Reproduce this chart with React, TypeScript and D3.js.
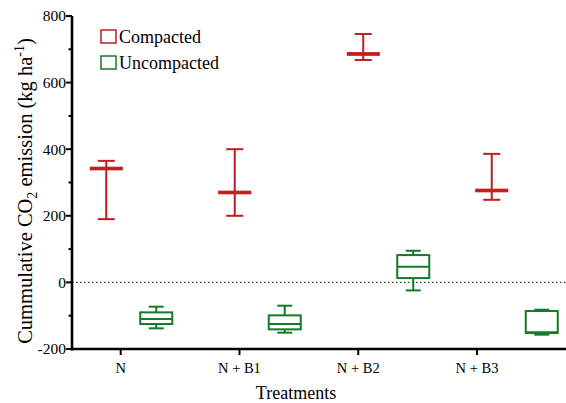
import { useMemo } from 'react';
import * as d3 from 'd3';

const treatments = ['N', 'N + B1', 'N + B2', 'N + B3'];
const groups = ['Compacted', 'Uncompacted'];

// five-number summaries
const compactedMin = [190, 200, 668, 248];
const compactedQ1 = [338, 266, 682, 272];
const compactedMedian = [342, 270, 686, 276];
const compactedQ3 = [346, 274, 690, 280];
const compactedMax = [365, 400, 746, 386];

const uncompactedMin = [-138, -151, -24, -157];
const uncompactedQ1 = [-125, -141, 13, -152];
const uncompactedMedian = [-110, -125, 47, -150];
const uncompactedQ3 = [-90, -99, 82, -86];
const uncompactedMax = [-73, -70, 95, -82];

const yTicks = [-200, 0, 200, 400, 600, 800];
const yMinorTicks = [-100, 100, 300, 500, 700];

const RED = '#bf1e1e';
const GREEN = '#17782a';
const FONT = "'Liberation Serif', 'DejaVu Serif', serif";

const App = () => {
    const W = 566;
    const H = 403;
    const left = 72;
    const top = 16;
    const bottom = 349;

    const y = useMemo(() => d3.scaleLinear().domain([-200, 800]).range([bottom, top]), []);
    const xTick = useMemo(() => d3.scalePoint().domain(treatments).range([120.7, 477]), []);
    // markers sit on a slightly wider grid than the tick labels in the source figure
    const xGroup = useMemo(() => d3.scaleBand().domain(treatments).range([67, 581]).padding(0), []);
    const xSub = useMemo(() => d3.scalePoint().domain(groups).range([-25, 25]), []);

    const series = [
        { name: 'Compacted', color: RED, min: compactedMin, q1: compactedQ1, med: compactedMedian, q3: compactedQ3, max: compactedMax, box: false },
        { name: 'Uncompacted', color: GREEN, min: uncompactedMin, q1: uncompactedQ1, med: uncompactedMedian, q3: uncompactedQ3, max: uncompactedMax, box: true },
    ];

    const cx = (t, g) => xGroup(t) + xGroup.bandwidth() / 2 + xSub(g);

    return (
        <svg width={W} height={H} style={{ position: 'absolute', left: 0, top: 0, background: '#fff' }} fontFamily={FONT}>
            {/* zero reference */}
            <line x1={left} x2={W} y1={y(0)} y2={y(0)} stroke="#333" strokeWidth={1.2} strokeDasharray="1.5,2.5" />

            {/* boxes */}
            {series.map(s => (
                <g key={s.name} stroke={s.color} fill="none">
                    {treatments.map((t, i) => {
                        const c = cx(t, s.name);
                        const bw = 32;
                        const cw = s.box ? 15 : 17;
                        return (
                            <g key={t}>
                                <line x1={c} x2={c} y1={y(s.max[i])} y2={y(s.q3[i])} strokeWidth={2} />
                                <line x1={c} x2={c} y1={y(s.q1[i])} y2={y(s.min[i])} strokeWidth={2} />
                                <line x1={c - cw / 2} x2={c + cw / 2} y1={y(s.max[i])} y2={y(s.max[i])} strokeWidth={2} />
                                <line x1={c - cw / 2} x2={c + cw / 2} y1={y(s.min[i])} y2={y(s.min[i])} strokeWidth={2} />
                                {s.box ? (
                                    <rect x={c - bw / 2} y={y(s.q3[i])} width={bw} height={y(s.q1[i]) - y(s.q3[i])} strokeWidth={2} fill="#fff" />
                                ) : (
                                    <rect x={c - bw / 2} y={y(s.q3[i])} width={bw} height={y(s.q1[i]) - y(s.q3[i])} strokeWidth={1} fill={s.color} />
                                )}
                                <line x1={c - bw / 2} x2={c + bw / 2} y1={y(s.med[i])} y2={y(s.med[i])} strokeWidth={2} />
                            </g>
                        );
                    })}
                </g>
            ))}

            {/* y axis */}
            <line x1={left} x2={left} y1={top} y2={bottom + 1.5} stroke="#000" strokeWidth={2.6} />
            {yTicks.map(v => (
                <g key={v}>
                    <line x1={left - 6} x2={left} y1={y(v)} y2={y(v)} stroke="#000" strokeWidth={2} />
                    <text x={left - 6} y={y(v)} dy="0.35em" textAnchor="end" fontSize={15.5}>{v}</text>
                </g>
            ))}
            {yMinorTicks.map(v => (
                <line key={v} x1={left - 3.5} x2={left} y1={y(v)} y2={y(v)} stroke="#000" strokeWidth={2} />
            ))}

            {/* x axis */}
            <line x1={left - 1.3} x2={W} y1={bottom} y2={bottom} stroke="#000" strokeWidth={2.6} />
            {treatments.map(t => (
                <g key={t}>
                    <line x1={xTick(t)} x2={xTick(t)} y1={bottom} y2={bottom + 6} stroke="#000" strokeWidth={2} />
                    <text x={xTick(t)} y={bottom + 24} textAnchor="middle" fontSize={14.5}>{t}</text>
                </g>
            ))}

            {/* axis titles */}
            <text x={296} y={399} textAnchor="middle" fontSize={18}>Treatments</text>
            <text transform={`translate(32,191) rotate(-90)`} textAnchor="middle" fontSize={20.5}>
                Cummulative CO<tspan dy="5" fontSize={14}>2</tspan><tspan dy="-5"> emission (kg ha</tspan><tspan dy="-8" fontSize={14}>-1</tspan><tspan dy="8">)</tspan>
            </text>

            {/* legend */}
            {series.map((s, i) => (
                <g key={s.name} transform={`translate(101,${30 + i * 26})`}>
                    <rect x={0} y={0} width={15} height={13} fill="#fff" stroke={s.color} strokeWidth={1.5} />
                    <text x={18} y={13} fontSize={18}>{s.name}</text>
                </g>
            ))}
        </svg>
    );
};

export default App;
